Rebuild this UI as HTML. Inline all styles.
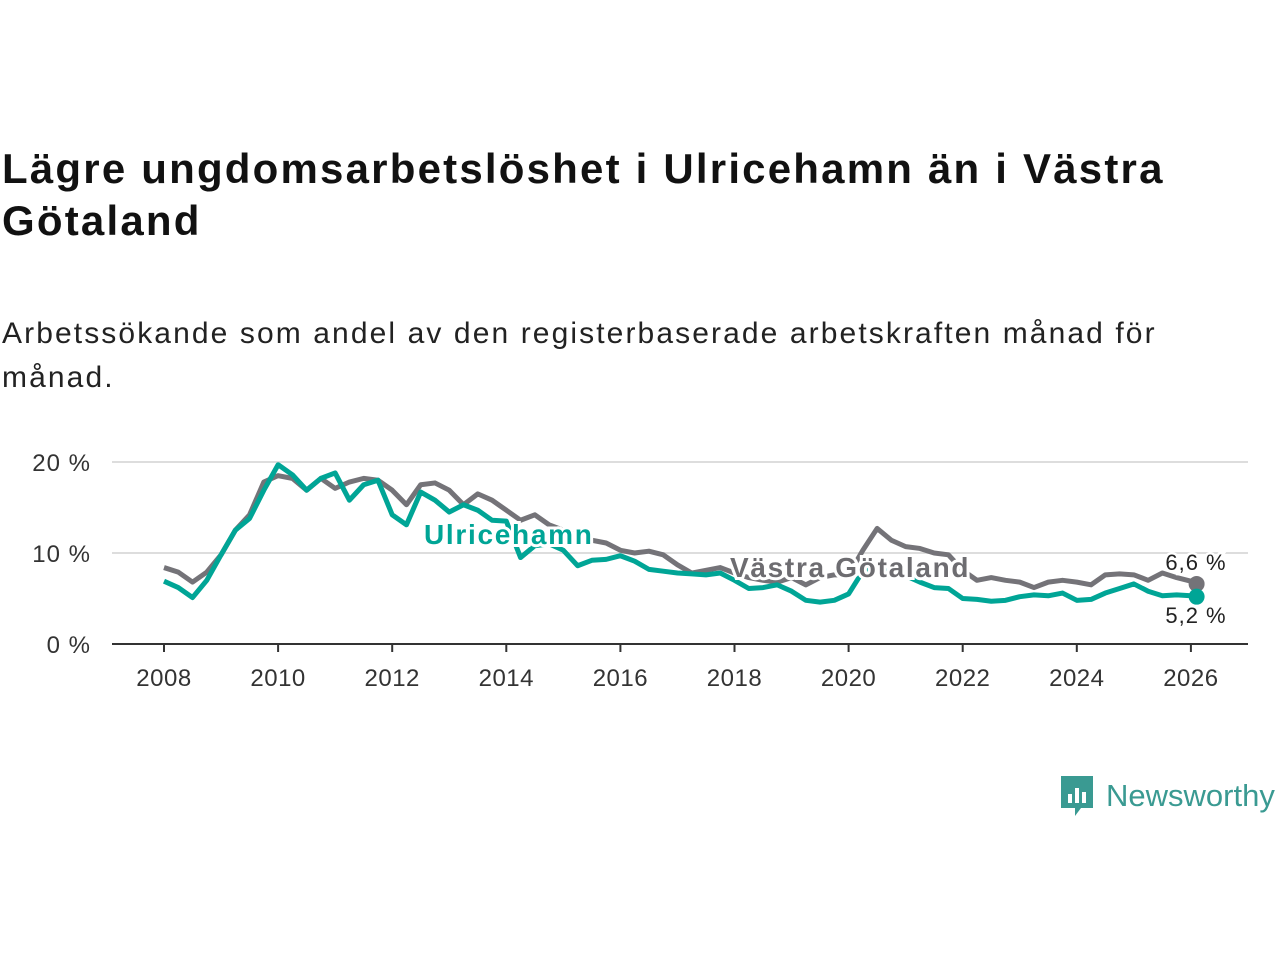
<!DOCTYPE html>
<html><head><meta charset="utf-8"><style>
body{margin:0;width:1280px;height:960px;background:#fff;font-family:"Liberation Sans",sans-serif;overflow:hidden;position:relative}
h1{position:absolute;left:2px;top:143px;margin:0;font-size:42px;line-height:52px;font-weight:bold;color:#111;letter-spacing:2.2px}
.sub{position:absolute;left:2px;top:312px;font-size:30px;line-height:44px;color:#222;letter-spacing:2.1px}
svg{position:absolute;left:0;top:0}
</style></head><body>
<h1>Lägre ungdomsarbetslöshet i Ulricehamn än i Västra<br>Götaland</h1>
<div class="sub">Arbetssökande som andel av den registerbaserade arbetskraften månad för<br>månad.</div>
<svg id="c" width="1280" height="960"></svg>
<script>
const years=[2008,2008.25,2008.5,2008.75,2009,2009.25,2009.5,2009.75,2010,2010.25,2010.5,2010.75,2011,2011.25,2011.5,2011.75,2012,2012.25,2012.5,2012.75,2013,2013.25,2013.5,2013.75,2014,2014.25,2014.5,2014.75,2015,2015.25,2015.5,2015.75,2016,2016.25,2016.5,2016.75,2017,2017.25,2017.5,2017.75,2018,2018.25,2018.5,2018.75,2019,2019.25,2019.5,2019.75,2020,2020.25,2020.5,2020.75,2021,2021.25,2021.5,2021.75,2022,2022.25,2022.5,2022.75,2023,2023.25,2023.5,2023.75,2024,2024.25,2024.5,2024.75,2025,2025.25,2025.5,2025.75,2026,2026.1];
const vastra=[8.4,7.9,6.8,7.9,9.8,12.5,14.2,17.8,18.5,18.2,16.9,18.2,17.1,17.8,18.2,18,16.9,15.3,17.5,17.7,16.9,15.3,16.5,15.8,14.7,13.6,14.2,13.1,12.5,12,11.4,11.1,10.3,10,10.2,9.8,8.7,7.8,8.1,8.4,7.8,7.3,7,6.8,7.3,6.5,7.3,7.6,7.6,10.3,12.7,11.4,10.7,10.5,10,9.8,8.1,7,7.3,7,6.8,6.2,6.8,7,6.8,6.5,7.6,7.7,7.6,7,7.8,7.3,6.9,6.6];
const ulricehamn=[6.9,6.2,5.1,7,9.8,12.5,13.8,16.9,19.7,18.6,16.9,18.2,18.8,15.8,17.5,18,14.2,13.1,16.7,15.8,14.5,15.3,14.7,13.6,13.5,9.5,10.8,11,10.3,8.6,9.2,9.3,9.7,9.1,8.2,8,7.8,7.7,7.6,7.8,7,6.1,6.2,6.5,5.8,4.8,4.6,4.8,5.5,8,8.5,8,7.5,6.8,6.2,6.1,5,4.9,4.7,4.8,5.2,5.4,5.3,5.6,4.8,4.9,5.6,6.1,6.6,5.8,5.3,5.4,5.3,5.2];
const yTicks=[0,10,20];
const xTicks=[2008,2010,2012,2014,2016,2018,2020,2022,2024,2026];
const X=y=>164+(y-2008)*57.05, Y=v=>644-v*9.1;
const svg=document.getElementById('c'), NS='http://www.w3.org/2000/svg';
function mk(t,a,p){const e=document.createElementNS(NS,t);for(const k in a)e.setAttribute(k,a[k]);(p||svg).appendChild(e);return e;}
yTicks.forEach(v=>{
 if(v>0){const g=mk('line',{x1:112,x2:1248,y1:Y(v),y2:Y(v),stroke:'#ddd','stroke-width':2});
 
 }
 const t=mk('text',{x:91,y:Y(v)+9,'text-anchor':'end','font-size':24,fill:'#333','letter-spacing':1});t.textContent=v+' %';
 
 
});
const ax=mk('line',{x1:112,x2:1248,y1:644,y2:644,stroke:'#333','stroke-width':2});


xTicks.forEach(v=>{
 mk('line',{x1:X(v),x2:X(v),y1:644,y2:652,stroke:'#333','stroke-width':2});
 const t=mk('text',{x:X(v),y:686,'text-anchor':'middle','font-size':24,fill:'#333','letter-spacing':0.5});t.textContent=v;
 
 
});
function line(d,c,n){const p=mk('polyline',{points:d.map((v,i)=>X(years[i])+','+Y(v)).join(' '),fill:'none',stroke:c,'stroke-width':5,'stroke-linejoin':'round'});
 
 }
line(vastra,'#747378','line-vastra-gotaland');
line(ulricehamn,'#00a596','line-ulricehamn');
function lab(x,y,txt,c,n){const t=mk('text',{x:x,y:y,'font-size':28,'font-weight':'bold',fill:c,stroke:'#fff','stroke-width':6,'paint-order':'stroke','letter-spacing':1.7});t.textContent=txt;
 
 }
lab(424,544,'Ulricehamn','#00a596','label-ulricehamn');
lab(730,577,'Västra Götaland','#6d6c70','label-vastra-gotaland');
const n=years.length-1;
const d1=mk('circle',{cx:X(years[n]),cy:Y(vastra[n]),r:8,fill:'#747378'});


const d2=mk('circle',{cx:X(years[n]),cy:Y(ulricehamn[n]),r:8,fill:'#00a596'});


function vl(y,txt,n){const t=mk('text',{x:1196,y:y,'text-anchor':'middle','font-size':22,fill:'#222',stroke:'#fff','stroke-width':5,'paint-order':'stroke','letter-spacing':1});t.textContent=txt;
 
 }
vl(570,'6,6 %','end-value-vastra');
vl(623,'5,2 %','end-value-ulricehamn');
</script>
<div style="position:absolute;left:1059px;top:774px;display:flex;align-items:center">
<svg width="36" height="44" style="position:static"><path d="M2 2h32v32H22l-6 8v-8H2z" fill="#3a9a92"/><rect x="9" y="20" width="4" height="9" fill="#fff"/><rect x="16" y="14" width="4" height="15" fill="#fff"/><rect x="23" y="18" width="4" height="11" fill="#fff"/></svg>
<span style="font-size:31px;color:#3a9a92;margin-left:11px">Newsworthy</span></div>
</body></html>
